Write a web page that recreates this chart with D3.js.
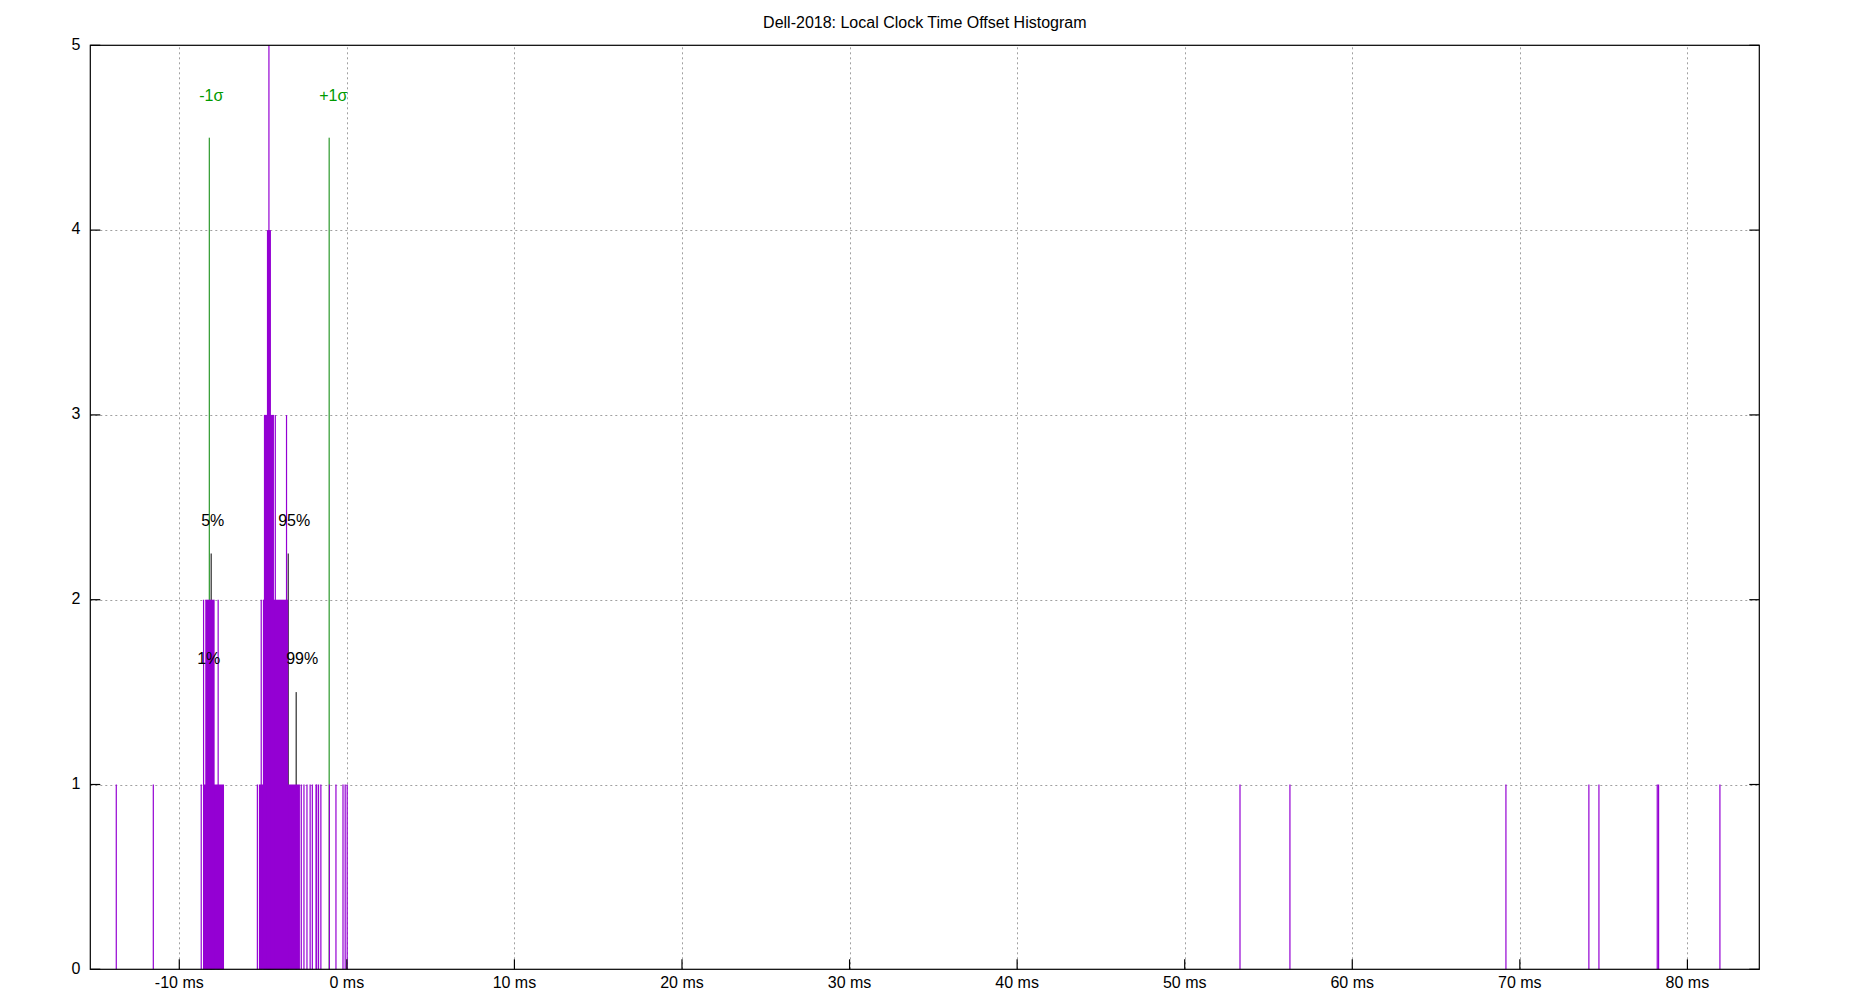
<!DOCTYPE html>
<html>
<head>
<meta charset="utf-8">
<script src="https://cdn.jsdelivr.net/npm/d3@7"></script>
<style>
  html, body { margin: 0; padding: 0; background: #fff; }
  svg { display: block; font-family: "Liberation Sans", Arial, sans-serif; }
</style>
</head>
<body>
<svg id="chart" width="1850" height="1000"></svg>
<script>
// Histogram of local clock offsets (ms)
const title = "Dell-2018: Local Clock Time Offset Histogram";
const xTicks = [-10, 0, 10, 20, 30, 40, 50, 60, 70, 80];
const yTicks = [0, 1, 2, 3, 4, 5];

// single-bin impulses: offset (ms) and count
const spikeX = [-13.76, -11.55, -8.69, -8.55, -7.68, -5.34, -5.11, -4.65, -4.27, -3.60,
  -2.72, -2.56, -2.38, -2.19, -2.06, -1.84, -1.80, -1.69, -1.55, -1.04, -0.65, -0.23, -0.10, 0.02,
  53.30, 56.28, 69.17, 74.12, 74.72, 78.20, 78.28, 81.94];
const spikeN = [1, 1, 1, 2, 2, 1, 2, 5, 3, 3,
  1, 1, 1, 1, 1, 1, 1, 1, 1, 1, 1, 1, 1, 1,
  1, 1, 1, 1, 1, 1, 1, 1];

// runs of adjacent bins sharing (at least) a count
const runFrom = [-8.58, -8.45, -5.25, -5.01, -4.95, -4.77];
const runTo   = [-7.33, -7.89, -2.80, -3.50, -4.35, -4.53];
const runN    = [1, 2, 1, 2, 3, 4];

// percentile markers
const pctName = ["1%", "5%", "95%", "99%"];
const pctX    = [-8.335, -8.097, -3.50, -3.025];
const pctH    = [1.5, 2.25, 2.25, 1.5];

// standard deviation markers
const sigName = ["-1σ", "+1σ"];
const sigX    = [-8.21, -1.056];
const sigH    = [4.5, 4.5];

const svg = d3.select("#chart");
const margin = { left: 90.3, right: 1850 - 1759.3, top: 45.3, bottom: 1000 - 969.3 };
const x = d3.scaleLinear().domain([-15.31, 84.29]).range([margin.left, 1850 - margin.right]);
const y = d3.scaleLinear().domain([0, 5]).range([1000 - margin.bottom, margin.top]);

const purple = "#9400d3";
const green = "#009a00";

// grid
const grid = svg.append("g").attr("stroke", "#a0a0a0").attr("stroke-width", 1)
  .attr("stroke-dasharray", "2,3");
grid.selectAll(".gx").data(xTicks).enter().append("line")
  .attr("x1", d => Math.round(x(d)) + 0.5).attr("x2", d => Math.round(x(d)) + 0.5)
  .attr("y1", y(0)).attr("y2", y(5));
grid.selectAll(".gy").data(yTicks.slice(1, -1)).enter().append("line")
  .attr("y1", d => Math.round(y(d)) + 0.5).attr("y2", d => Math.round(y(d)) + 0.5)
  .attr("x1", x.range()[0]).attr("x2", x.range()[1]);

// marker lines sit behind the histogram
svg.append("g").selectAll("line").data(sigX).enter().append("line")
  .attr("x1", d => x(d)).attr("x2", d => x(d))
  .attr("y1", y(0)).attr("y2", (d, i) => y(sigH[i]))
  .attr("stroke", "#008400").attr("stroke-width", 1);
svg.append("g").selectAll("line").data(pctX).enter().append("line")
  .attr("x1", d => x(d)).attr("x2", d => x(d))
  .attr("y1", y(0)).attr("y2", (d, i) => y(pctH[i]))
  .attr("stroke", "#000").attr("stroke-width", 1);

// histogram runs
svg.append("g").selectAll("rect").data(runFrom).enter().append("rect")
  .attr("x", d => x(d))
  .attr("width", (d, i) => x(runTo[i]) - x(d))
  .attr("y", (d, i) => y(runN[i]))
  .attr("height", (d, i) => y(0) - y(runN[i]))
  .attr("fill", purple);

// histogram impulses
svg.append("g").selectAll("line").data(spikeX).enter().append("line")
  .attr("x1", d => x(d)).attr("x2", d => x(d))
  .attr("y1", y(0)).attr("y2", (d, i) => y(spikeN[i]))
  .attr("stroke", purple).attr("stroke-width", 1.2);

// marker labels on top
svg.append("g").selectAll("text").data(sigName).enter().append("text")
  .attr("x", (d, i) => x(sigX[i]) - 10)
  .attr("y", (d, i) => y(sigH[i]) - 37)
  .attr("fill", green).attr("font-size", 16)
  .text(d => d);
svg.append("g").selectAll("text").data(pctName).enter().append("text")
  .attr("x", (d, i) => x(pctX[i]) - 10)
  .attr("y", (d, i) => y(pctH[i]) - 28)
  .attr("fill", "#000").attr("font-size", 16)
  .text(d => d);

// border
svg.append("rect")
  .attr("x", x.range()[0]).attr("y", y(5))
  .attr("width", x.range()[1] - x.range()[0]).attr("height", y(0) - y(5))
  .attr("fill", "none").attr("stroke", "#000").attr("stroke-width", 1.2);

// ticks
const ticks = svg.append("g").attr("stroke", "#000").attr("stroke-width", 1.2);
ticks.selectAll(".tx").data(xTicks).enter().append("line")
  .attr("x1", d => x(d)).attr("x2", d => x(d))
  .attr("y1", y(0)).attr("y2", y(0) - 10);
ticks.selectAll(".tyl").data(yTicks).enter().append("line")
  .attr("y1", d => y(d)).attr("y2", d => y(d))
  .attr("x1", x.range()[0]).attr("x2", x.range()[0] + 10);
ticks.selectAll(".tyr").data(yTicks).enter().append("line")
  .attr("y1", d => y(d)).attr("y2", d => y(d))
  .attr("x1", x.range()[1]).attr("x2", x.range()[1] - 10);

// tick labels
svg.append("g").selectAll("text").data(xTicks).enter().append("text")
  .attr("x", d => x(d)).attr("y", y(0) + 19)
  .attr("text-anchor", "middle").attr("font-size", 16)
  .text(d => d + " ms");
svg.append("g").selectAll("text").data(yTicks).enter().append("text")
  .attr("x", x.range()[0] - 10).attr("y", d => y(d) + 4.2)
  .attr("text-anchor", "end").attr("font-size", 16)
  .text(d => d);

// title
svg.append("text")
  .attr("x", (x.range()[0] + x.range()[1]) / 2).attr("y", 27.5)
  .attr("text-anchor", "middle").attr("font-size", 16)
  .text(title);
</script>
</body>
</html>
